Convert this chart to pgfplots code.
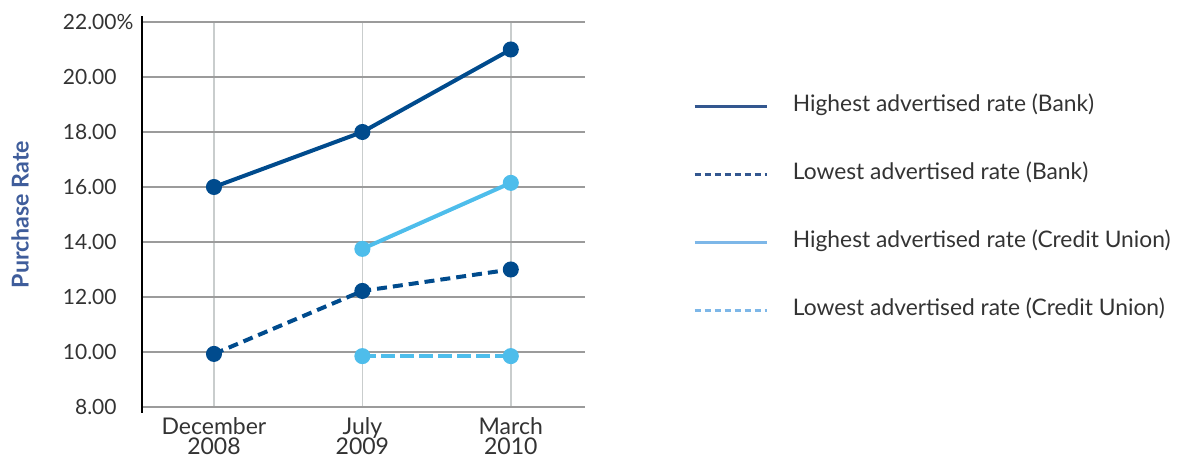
\documentclass[border=0pt]{standalone}
\usepackage{pgfplots}
\pgfplotsset{compat=1.18}
\usepackage{fontspec}
\setmainfont{Lato}
\definecolor{bankblue}{HTML}{004B8D}
\definecolor{cublue}{HTML}{4EBDEB}
\definecolor{legbank}{HTML}{33578F}
\definecolor{legcu}{HTML}{7DB7E8}
\definecolor{hgrid}{HTML}{9B9B9B}
\definecolor{vgrid}{HTML}{C9CDCD}
\definecolor{labelblue}{HTML}{3F5D9B}
\definecolor{txt}{HTML}{333333}
% keeps a descender from pushing the next line of a tick label down
\newcommand{\nodepth}[1]{\raisebox{0pt}[\height][0pt]{#1}}

\begin{document}
\begin{tikzpicture}
\useasboundingbox (-71pt,-25.5pt) rectangle (517.5pt,203.5pt);
\begin{axis}[
  at={(0,0)}, anchor=south west,
  scale only axis, width=221.5pt, height=192.5pt,
  xmin=-0.485, xmax=2.5, ymin=8, ymax=22,
  clip=false,
  axis lines*=left,
  x axis line style={draw=none},
  y axis line style={-, black, line width=1.3pt, shorten >=-3pt, shorten <=-3pt},
  major tick length=0pt,
  grid=major,
  x grid style={vgrid, line width=0.7pt},
  y grid style={hgrid, line width=0.7pt},
  xtick={0,1,2},
  xticklabels={December\\2008, \nodepth{July}\\2009, March\\2010},
  xticklabel style={align=center, font=\fontsize{11.5}{10}\selectfont,
    text=txt, inner sep=0pt, yshift=-5pt},
  ytick={8,10,12,14,16,18,20,22},
  yticklabels={8.00,10.00,12.00,14.00,16.00,18.00,20.00,22.00\rlap{\%}},
  yticklabel style={anchor=east, font=\fontsize{10.5}{12}\selectfont, text=txt, inner sep=0pt, xshift=-12.5pt},
  ylabel={Purchase Rate},
  every axis y label/.style={at={(axis description cs:-0.2754,0.5)}, rotate=90, anchor=center,
    font=\bfseries\fontsize{11.6}{13}\selectfont, text=labelblue},
  legend image code/.code={\draw[#1] (0pt,0pt) -- (36pt,0pt);},
  legend cell align=left,
  legend style={at={(1.244,0.808)}, anchor=north west, draw=none, fill=none, inner sep=0pt,
    row sep=24pt, column sep=0pt,
    nodes={inner sep=0pt, text=txt, font=\fontsize{11.4}{13}\selectfont, text height=7.5pt, text depth=2.5pt}},
  /tikz/every odd column/.append style={column sep=12.5pt},
]
% Highest advertised rate, banks
\addplot[bankblue, line width=2pt, mark=*, mark size=3pt, forget plot]
  coordinates {(0,16) (1,18) (2,21)};
% Lowest advertised rate, banks
\addplot[bankblue, line width=2pt, dash pattern=on 5pt off 3pt, mark=*, mark size=3pt, mark options={solid}, forget plot]
  coordinates {(0,9.93) (1,12.22) (2,13.0)};
% Highest advertised rate, credit unions
\addplot[cublue, line width=2pt, mark=*, mark size=3pt, forget plot]
  coordinates {(1,13.75) (2,16.15)};
% Lowest advertised rate, credit unions
\addplot[cublue, line width=2pt, dash pattern=on 7pt off 2.5pt, mark=*, mark size=3pt, mark options={solid}, forget plot]
  coordinates {(1,9.85) (2,9.85)};

\addlegendimage{legbank, line width=1.2pt}
\addlegendentry{Highest advertised rate (Bank)}
\addlegendimage{legbank, line width=1.2pt, dash pattern=on 3pt off 2pt}
\addlegendentry{Lowest advertised rate (Bank)}
\addlegendimage{legcu, line width=1.2pt}
\addlegendentry{Highest advertised rate (Credit Union)}
\addlegendimage{legcu, line width=1.2pt, dash pattern=on 3pt off 2pt}
\addlegendentry{Lowest advertised rate (Credit Union)}
\end{axis}
\end{tikzpicture}
\end{document}
